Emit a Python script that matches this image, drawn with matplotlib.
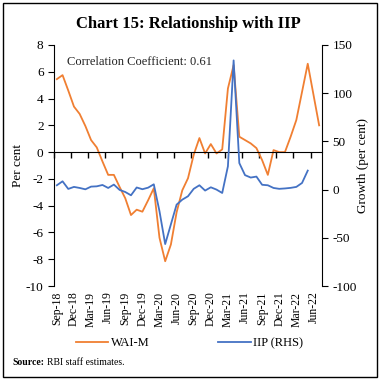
import numpy as np
import pandas as pd
import matplotlib
matplotlib.use("Agg")
import matplotlib.pyplot as plt
from matplotlib.patches import Rectangle

plt.rcParams['font.family'] = ['Liberation Serif', 'DejaVu Serif']
plt.rcParams['axes.unicode_minus'] = False

# monthly categories, Sep-18 .. Jul-22
months = pd.date_range('2018-09-01', '2022-07-01', freq='MS').strftime('%b-%y').tolist()

# WAI-M (per cent, LHS)
wai_m = [5.45, 5.75, 4.6, 3.4, 2.85, 1.95, 0.9, 0.35, -0.7, -1.7,
         -1.7, -2.6, -3.45, -4.7, -4.3, -4.45, -3.6, -2.7, -6.4, -8.15,
         -6.9, -4.5, -2.85, -1.95, -0.2, 1.05, -0.1, 0.6, -0.1, 0.2,
         4.75, 6.5, 1.15, 0.9, 0.65, 0.3, -0.6, -1.7, 0.15, 0.0,
         0.0, 1.15, 2.4, 4.5, 6.6, 4.3, 2.0]

# IIP growth (per cent, RHS), Sep-18 .. May-22
iip = [4.5, 8.6, 0.7, 2.8, 1.7, 0.3, 3.1, 3.4, 4.8, 1.7,
       5.2, -0.3, -2.5, -5.9, 2.2, 0.4, 2.0, 5.5, -22.5, -56.5,
       -36.0, -15.6, -10.4, -6.9, 0.8, 4.5, -1.0, 2.4, 0.0, -3.5,
       24.2, 134.0, 27.5, 15.0, 12.5, 13.5, 5.0, 4.5, 1.7, 0.8,
       1.2, 1.8, 2.8, 6.9, 19.7]

orange = '#F07F32'
blue = '#4472C4'

fig = plt.figure(figsize=(3.79, 3.82), dpi=100)
ax = fig.add_axes([0.1425, 0.2513, 0.7071, 0.6309])
ax2 = ax.twinx()

x_wai = np.arange(len(wai_m))
x_iip = np.arange(len(iip))
l1, = ax.plot(x_wai, wai_m, color=orange, lw=1.3, label='WAI-M')
l2, = ax2.plot(x_iip, iip, color=blue, lw=1.3, label='IIP (RHS)')

ax.set_xlim(-0.5, len(months) - 0.5)
ax.set_ylim(-10, 8)
ax.set_yticks(np.arange(-10, 9, 2))
ax2.set_ylim(-100, 150)
ax2.set_yticks(np.arange(-100, 151, 50))

# x axis line sits at zero, with tick marks between categories
ax.spines['bottom'].set_position(('data', 0))
ax.set_xticks(np.arange(-0.5, len(months) - 0.5, 3))
ax.tick_params(axis='x', direction='out', length=4, width=1, labelbottom=False)
for a in (ax, ax2):
    a.spines['top'].set_visible(False)
ax2.spines['bottom'].set_visible(False)
ax2.spines['left'].set_visible(False)
ax.spines['right'].set_visible(False)

# month labels at the bottom of the plot
sec = ax.secondary_xaxis('bottom')
sec.spines['bottom'].set_visible(False)
sec.set_xticks(np.arange(0, len(months), 3))
sec.set_xticklabels(months[::3], rotation=90, fontsize=8.5)
sec.tick_params(axis='x', length=0, pad=4)

ax.tick_params(axis='y', direction='out', length=4, labelsize=9.5)
ax2.tick_params(axis='y', direction='out', length=4, labelsize=9.5)
ax.set_ylabel('Per cent', fontsize=9.5, labelpad=1)
ax2.set_ylabel('Growth (per cent)', fontsize=9.5, labelpad=0)

ax.text(0.05, 0.93, 'Correlation Coefficient: 0.61', transform=ax.transAxes,
        fontsize=9, va='center', ha='left', color='#222222')

fig.legend(handles=[l1, l2], loc='center', bbox_to_anchor=(0.5, 0.102),
           ncol=2, frameon=False, fontsize=9, handlelength=2.6,
           columnspacing=5.5, handletextpad=0.2)

fig.text(0.497, 0.937, 'Chart 15: Relationship with IIP', ha='center', va='center',
         fontsize=12, fontweight='bold')
fig.text(0.034, 0.052, 'Source:', fontsize=7, fontweight='bold', va='center')
fig.text(0.124, 0.052, 'RBI staff estimates.', fontsize=7, va='center')

fig.patches.append(Rectangle((3 / 379, 5 / 382), 374 / 379, 374 / 382, fill=False,
                             edgecolor='black', lw=1, transform=fig.transFigure))

fig.savefig('out.png', dpi=100)
